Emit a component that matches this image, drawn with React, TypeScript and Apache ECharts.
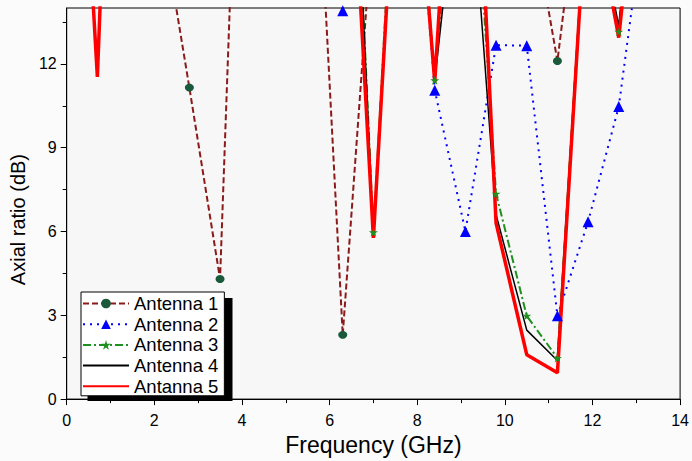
import React, { useEffect, useRef } from "react";
import * as echarts from "echarts";

// Frequency samples (GHz)
const freq = [0, 0.7, 1.4, 2.1, 2.8, 3.5, 4.2, 4.9, 5.6, 6.3, 7.0, 7.7, 8.4, 9.1, 9.8, 10.5, 11.2, 11.9, 12.6, 13.3, 14.0];

// Axial ratio (dB) per antenna (values above 14 lie outside the plotted range)
const antenna1 = [30, 30, 25, 17.8, 11.15, 4.3, 35, 30, 23.3, 2.3, 17.5, 25, 25, 25, 25, 18.4, 12.1, 21, 25, 25, 25];
const antenna2 = [30, 30, 30, 30, 30, 30, 30, 30, 30, 13.9, 30, 25, 11.06, 6.0, 12.67, 12.65, 2.98, 6.35, 10.47, 18.7, 25];
const antenna3 = [30, 20, 35, 30, 30, 30, 30, 30, 30, 30, 5.97, 26, 11.41, 24, 7.35, 2.98, 1.47, 19, 13.15, 25, 30];
const antenna4 = [30, 20, 30, 30, 30, 30, 30, 30, 30, 30, 5.85, 25, 11.4, 21.4, 6.6, 2.47, 1.38, 19, 13.35, 25, 30];
const antenna5 = [30.7, 11.53, 40, 30, 30, 30, 30, 30, 30, 25.7, 5.77, 25, 11.35, 29, 6.3, 1.59, 0.94, 18.9, 12.94, 23.5, 30];

const seriesNames = ["Antenna 1", "Antenna 2", "Antenna 3", "Antenna 4", "Antanna 5"];

const yMajorTicks = [0, 3, 6, 9, 12];
const yMinorTicks = [1.5, 4.5, 7.5, 10.5, 13.5];

const FONT = "'Liberation Sans', Arial, Helvetica, sans-serif";

const pairs = (ys: number[]) => freq.map((f, i) => [f, ys[i]]);

export default function App() {
  const ref = useRef<HTMLDivElement>(null);

  useEffect(() => {
    if (!ref.current) return;
    const chart = echarts.init(ref.current, null, { renderer: "svg" });

    const option: any = {
      animation: false,
      backgroundColor: "#fbfbfb",
      grid: {
        left: 63,
        right: 11,
        top: 8,
        bottom: 56,
        show: true,
        borderColor: "#000",
        borderWidth: 1,
        backgroundColor: "#f7f7f7",
        containLabel: false,
      },
      xAxis: {
        type: "value",
        min: 0,
        max: 14,
        interval: 2,
        name: "Frequency (GHz)",
        nameLocation: "middle",
        nameGap: 29,
        nameTextStyle: { fontFamily: FONT, fontSize: 23, color: "#000" },
        axisLine: { show: true, lineStyle: { color: "#000", width: 1 } },
        axisTick: { show: true, inside: false, length: 6, lineStyle: { color: "#000" } },
        minorTick: { show: true, splitNumber: 2, length: 4, lineStyle: { color: "#000" } },
        axisLabel: { fontFamily: FONT, fontSize: 16, color: "#000", margin: 13 },
        splitLine: { show: false },
        minorSplitLine: { show: false },
      },
      yAxis: [
        {
          type: "value",
          min: 0,
          max: 14,
          interval: 3,
          name: "Axial ratio (dB)",
          nameLocation: "middle",
          nameGap: 28,
          nameTextStyle: { fontFamily: FONT, fontSize: 20, color: "#000", padding: [0, 32, 0, 0] },
          axisLine: { show: true, lineStyle: { color: "#000", width: 1 } },
          axisTick: { show: true, inside: false, length: 6, customValues: yMajorTicks, lineStyle: { color: "#000" } },
          axisLabel: { fontFamily: FONT, fontSize: 16, color: "#000", margin: 10, customValues: yMajorTicks },
          splitLine: { show: false },
        },
        {
          type: "value",
          min: 0,
          max: 14,
          position: "left",
          axisLine: { show: false },
          axisTick: { show: true, inside: false, length: 4, customValues: yMinorTicks, lineStyle: { color: "#000" } },
          axisLabel: { show: false },
          splitLine: { show: false },
        },
      ],
      legend: {
        orient: "vertical",
        left: 81,
        top: 292,
        padding: [2, 6, 0, 1],
        itemWidth: 46,
        itemHeight: 12,
        itemGap: 1.7,
        backgroundColor: "#ffffff",
        borderColor: "#000",
        borderWidth: 1,
        z: 10,
        textStyle: { fontFamily: FONT, fontSize: 18.5, color: "#000", lineHeight: 19 },
        data: [
          { name: seriesNames[0] },
          { name: seriesNames[1] },
          { name: seriesNames[2] },
          { name: seriesNames[3], itemStyle: { opacity: 0 } },
          { name: seriesNames[4], itemStyle: { opacity: 0 } },
        ],
      },
      graphic: [
        {
          type: "rect",
          z: 9,
          shape: { x: 87.5, y: 298, width: 145, height: 103 },
          style: { fill: "#000" },
        },
      ],
      series: [
        {
          name: seriesNames[0],
          type: "line",
          data: pairs(antenna1),
          symbol: "circle",
          symbolSize: [9, 8],
          itemStyle: { color: "#1a5a3a" },
          lineStyle: { color: "#8b1a1a", width: 2, type: [6, 3] },
          clip: true,
        },
        {
          name: seriesNames[1],
          type: "line",
          data: pairs(antenna2),
          symbol: "triangle",
          symbolSize: 11,
          itemStyle: { color: "#0000ff" },
          lineStyle: { color: "#0000ff", width: 2, type: [2, 5] },
          clip: true,
        },
        {
          name: seriesNames[2],
          type: "line",
          data: pairs(antenna3),
          symbol: "path://M50,0 L61,35 L98,35 L68,57 L79,92 L50,70 L21,92 L32,57 L2,35 L39,35 Z",
          symbolSize: 9,
          itemStyle: { color: "#1f8f1f" },
          lineStyle: { color: "#1f8f1f", width: 2, type: [8, 3, 2, 3] },
          clip: true,
        },
        {
          name: seriesNames[3],
          type: "line",
          data: pairs(antenna4),
          symbol: "none",
          itemStyle: { color: "#000" },
          lineStyle: { color: "#000", width: 1.5 },
          clip: true,
        },
        {
          name: seriesNames[4],
          type: "line",
          data: pairs(antenna5),
          symbol: "none",
          itemStyle: { color: "#ff0000" },
          lineStyle: { color: "#ff0000", width: 3.5 },
          clip: true,
        },
      ],
    };

    chart.setOption(option);
    return () => chart.dispose();
  }, []);

  return (
    <div
      ref={ref}
      style={{ position: "absolute", left: 0, top: 0, width: 692, height: 461 }}
    />
  );
}
